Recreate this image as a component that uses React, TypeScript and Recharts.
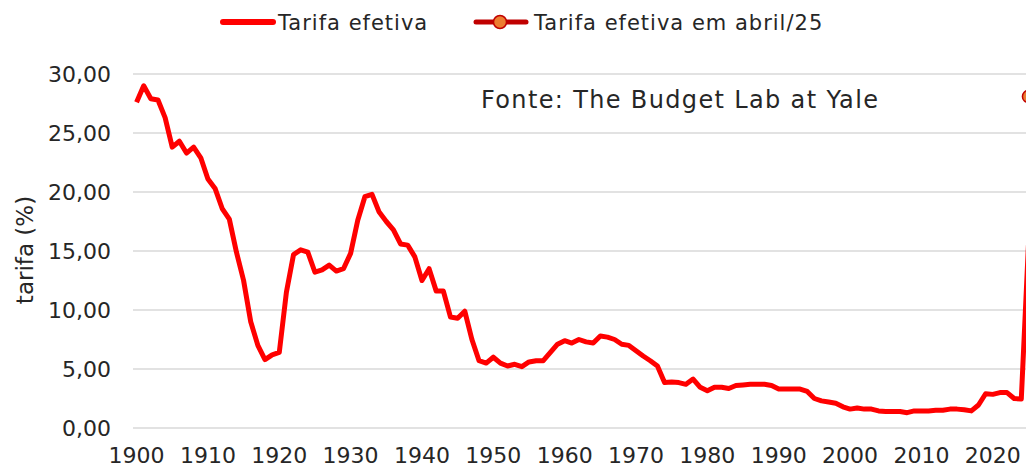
import React from "react";
import { LineChart, Line, XAxis, YAxis, CartesianGrid } from "recharts";

const FONT = "'DejaVu Sans', sans-serif";
const TEXT = "#262626";

// effective tariff rate (%), one value per year from 1900
const firstYear = 1900;
const effectiveTariff = [
  27.6, 29.0, 27.9, 27.8, 26.3, 23.8, 24.3, 23.3, 23.8, 22.9,
  21.1, 20.3, 18.6, 17.7, 14.9, 12.5, 9.0, 7.0, 5.8, 6.2,
  6.4, 11.5, 14.7, 15.1, 14.9, 13.2, 13.4, 13.8, 13.3, 13.5,
  14.8, 17.6, 19.6, 19.8, 18.3, 17.5, 16.8, 15.6, 15.5, 14.5,
  12.5, 13.5, 11.6, 11.6, 9.4, 9.3, 9.9, 7.5, 5.7, 5.5,
  6.0, 5.5, 5.25, 5.4, 5.2, 5.6, 5.7, 5.7, 6.4, 7.1,
  7.4, 7.2, 7.5, 7.3, 7.2, 7.8, 7.7, 7.5, 7.1, 7.0,
  6.55, 6.1, 5.7, 5.25, 3.85, 3.9, 3.85, 3.7, 4.15, 3.45,
  3.15, 3.45, 3.45, 3.35, 3.6, 3.65, 3.7, 3.7, 3.7, 3.6,
  3.3, 3.3, 3.3, 3.3, 3.1, 2.5, 2.3, 2.2, 2.1, 1.8,
  1.6, 1.7, 1.6, 1.6, 1.45, 1.4, 1.4, 1.4, 1.3, 1.45,
  1.45, 1.45, 1.5, 1.5, 1.6, 1.6, 1.55, 1.45, 1.95, 2.9,
  2.85, 3.0, 3.0, 2.5, 2.45, 15.5,
];

// single point: rate in April 2025
const aprilYear = 2025;
const aprilTariff = 28.1;

const xTicks = [1900, 1910, 1920, 1930, 1940, 1950, 1960, 1970, 1980, 1990, 2000, 2010, 2020];
const yTicks = [0, 5, 10, 15, 20, 25, 30];

const data = effectiveTariff.map((v, i) => ({
  year: firstYear + i,
  tarifa: v,
  abril: firstYear + i === aprilYear ? aprilTariff : null,
}));

const fmt = (v: number) => v.toFixed(2).replace(".", ",");

export default function App() {
  return (
    <div
      style={{
        position: "absolute",
        left: 0,
        top: 0,
        width: 1026,
        height: 468,
        overflow: "hidden",
        background: "#fff",
        fontFamily: FONT,
      }}
    >
      <LineChart
        width={1032}
        height={468}
        data={data}
        margin={{ top: 74, right: 0, bottom: 0, left: 0 }}
      >
        <CartesianGrid vertical={false} stroke="#d9d9d9" strokeWidth={1.3} />
        <XAxis
          dataKey="year"
          type="number"
          domain={[1899.5, 2025.5]}
          ticks={xTicks}
          interval={0}
          height={40}
          axisLine={false}
          tickLine={false}
          tickSize={0}
          tickMargin={19}
          tick={{ fill: TEXT, fontSize: 22, fontFamily: FONT }}
        />
        <YAxis
          domain={[0, 30]}
          ticks={yTicks}
          width={133}
          axisLine={false}
          tickLine={false}
          tickSize={0}
          tickMargin={22}
          tickFormatter={fmt}
          tick={{ fill: TEXT, fontSize: 22, fontFamily: FONT }}
        />
        <Line
          dataKey="tarifa"
          stroke="#ff0000"
          strokeWidth={5}
          strokeLinejoin="round"
          dot={false}
          isAnimationActive={false}
        />
        <Line
          dataKey="abril"
          stroke="#c00000"
          strokeWidth={3}
          dot={{ r: 6, fill: "#ed7d31", stroke: "#c00000", strokeWidth: 1.5 }}
          isAnimationActive={false}
        />
      </LineChart>

      <svg
        width={1026}
        height={468}
        style={{ position: "absolute", left: 0, top: 0, pointerEvents: "none" }}
      >
        {/* legend */}
        <line x1={223} y1={22} x2={273} y2={22} stroke="#ff0000" strokeWidth={6} strokeLinecap="round" />
        <text x={278} y={30} fontSize={21} fill={TEXT} letterSpacing={1.0} fontFamily={FONT}>
          Tarifa efetiva
        </text>
        <line x1={476} y1={22} x2={526} y2={22} stroke="#c00000" strokeWidth={5} strokeLinecap="round" />
        <circle cx={500} cy={22} r={6.5} fill="#ed7d31" stroke="#c00000" strokeWidth={1.5} />
        <text x={534} y={30} fontSize={21} fill={TEXT} letterSpacing={1.0} fontFamily={FONT}>
          Tarifa efetiva em abril/25
        </text>

        {/* source note */}
        <text x={481} y={108} fontSize={24} fill={TEXT} letterSpacing={1.35} fontFamily={FONT}>
          Fonte: The Budget Lab at Yale
        </text>

        {/* y axis title */}
        <text
          x={0}
          y={0}
          fontSize={23}
          fill={TEXT}
          textAnchor="middle"
          fontFamily={FONT}
          transform="translate(33 250) rotate(-90)"
        >
          tarifa (%)
        </text>
      </svg>
    </div>
  );
}
